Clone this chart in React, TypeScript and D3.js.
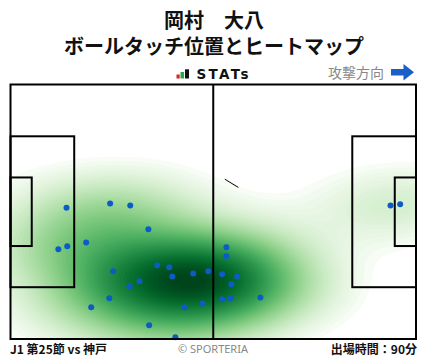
import React, { useMemo } from 'react';
import * as d3 from 'd3';

const W = 428;
const H = 359;

// pitch size in metres
const PITCH_LEN = 105;
const PITCH_WID = 68;

// ball touches (metres, x = attacking direction, y = from top touchline)
const touchX = [
  14.5, 25.8, 31.0, 35.7, 19.6, 12.4, 14.7, 38.0, 41.1, 41.9, 47.3,
  51.2, 26.6, 33.4, 30.8, 25.6, 20.9, 45.0, 49.7, 35.9, 42.7,
  98.4, 100.9, 55.9, 55.9, 54.8, 58.7, 57.2, 54.8, 56.9, 64.7,
];
const touchY = [
  32.9, 31.8, 32.3, 38.7, 42.2, 44.0, 43.2, 48.3, 48.8, 51.3, 50.5,
  49.9, 49.9, 52.6, 53.9, 57.1, 59.5, 59.5, 58.5, 64.3, 67.5,
  32.3, 32.0, 43.5, 45.9, 50.7, 51.3, 53.4, 57.4, 57.1, 56.9,
];

const titleText = '岡村　大八';
const subtitleText = 'ボールタッチ位置とヒートマップ';
const directionText = '攻撃方向';
const matchText = 'J1 第25節 vs 神戸';
const creditText = '© SPORTERIA';
const minutesText = '出場時間：90分';

const JP = '"Noto Sans CJK JP", "Noto Sans", sans-serif';

// gaussian kde (scott bandwidth * adjust), evaluated on a regular grid
function kdeGrid(xs: number[], ys: number[], x0: number, x1: number, y0: number, y1: number, step: number, adjust: number) {
  const n = xs.length;
  const mx = d3.mean(xs)!;
  const my = d3.mean(ys)!;
  let sxx = 0, syy = 0, sxy = 0;
  for (let i = 0; i < n; i++) {
    const dx = xs[i] - mx, dy = ys[i] - my;
    sxx += dx * dx; syy += dy * dy; sxy += dx * dy;
  }
  const f2 = Math.pow(n, -1 / 3) * adjust * adjust;
  const a = (sxx / (n - 1)) * f2, b = (sxy / (n - 1)) * f2, c = (syy / (n - 1)) * f2;
  const det = a * c - b * b;
  const ia = c / det, ib = -b / det, ic = a / det;
  const nx = Math.round((x1 - x0) / step) + 1;
  const ny = Math.round((y1 - y0) / step) + 1;
  const values = new Float64Array(nx * ny);
  for (let j = 0; j < ny; j++) {
    const y = y0 + j * step;
    for (let i = 0; i < nx; i++) {
      const x = x0 + i * step;
      let s = 0;
      for (let k = 0; k < n; k++) {
        const dx = x - xs[k], dy = y - ys[k];
        s += Math.exp(-0.5 * (ia * dx * dx + 2 * ib * dx * dy + ic * dy * dy));
      }
      values[j * nx + i] = s;
    }
  }
  return { values, nx, ny };
}

// seaborn style iso-proportion levels
function isoLevels(values: Float64Array, thresh: number, count: number) {
  const sorted = Array.from(values).sort((p, q) => q - p);
  const total = d3.sum(sorted);
  const cum: number[] = [];
  let acc = 0;
  for (const v of sorted) { acc += v; cum.push(acc / total); }
  return d3.range(count).map(i => {
    const q = thresh + (1 - thresh) * i / (count - 1);
    const idx = d3.bisectLeft(cum, 1 - q);
    return sorted[Math.min(idx, sorted.length - 1)];
  });
}

const App = () => {
  const m = { l: 10.5, r: 12, t: 84.5, b: 20 };
  const x = d3.scaleLinear().domain([0, PITCH_LEN]).range([m.l, W - m.r]);
  const y = d3.scaleLinear().domain([0, PITCH_WID]).range([m.t, H - m.b]);

  const heat = useMemo(() => {
    const gx0 = -30, gx1 = 135, gy0 = -30, gy1 = 98, step = 0.5;
    const { values, nx, ny } = kdeGrid(touchX, touchY, gx0, gx1, gy0, gy1, step, 1.3);
    const levels = isoLevels(values, 0.04, 60);
    const layers = levels.slice(0, -1).map((l, i) => (l + levels[i + 1]) / 2);
    const lo = layers[0], hi = layers[layers.length - 1];
    const color = (v: number) => d3.interpolateGreens(Math.pow((v - lo) / (hi - lo), 0.75));
    const proj = d3.geoTransform({
      point(px: number, py: number) {
        (this as any).stream.point(x(gx0 + (px - 0.5) * step), y(gy0 + (py - 0.5) * step));
      },
    });
    const path = d3.geoPath(proj);
    const contours = d3.contours().size([nx, ny]).thresholds(levels.slice(0, -1))(Array.from(values));
    return contours.map((c, i) => ({ d: path(c) || '', fill: color(layers[i]) }));
  }, []);

  const penD = 16.5, penW = 40.32, gaD = 5.5, gaW = 18.32;
  const penY0 = (PITCH_WID - penW) / 2, gaY0 = (PITCH_WID - gaW) / 2;

  const line = { stroke: '#000', strokeWidth: 2, fill: 'none' };

  return (
    <svg width={W} height={H} style={{ position: 'absolute', left: 0, top: 0, background: '#fff' }}>
      <defs>
        <clipPath id="pitch-clip">
          <rect x={x(0)} y={y(0)} width={x(PITCH_LEN) - x(0)} height={y(PITCH_WID) - y(0)} />
        </clipPath>
      </defs>

      <text x={W / 2} y={28} textAnchor="middle" fontFamily={JP} fontWeight="bold" fontSize={20} fill="#111">{titleText}</text>
      <text x={W / 2} y={53.5} textAnchor="middle" fontFamily={JP} fontWeight="bold" fontSize={20} fill="#111">{subtitleText}</text>

      {/* STATs logo */}
      <rect x={176.5} y={74.5} width={3.2} height={4} fill="#e0202a" />
      <rect x={180.5} y={72} width={3.5} height={6.5} fill="#2aa84a" />
      <rect x={185} y={69.3} width={4} height={9.2} fill="#111" />
      <text x={196.5} y={78.5} fontFamily='"DejaVu Sans", sans-serif' fontWeight="bold" fontSize={13.5} textLength={52} lengthAdjust="spacing" fill="#111">STATs</text>

      <text x={384} y={77.5} textAnchor="end" fontFamily={JP} fontSize={14} fill="#888">{directionText}</text>
      <path d="M391,69 L403.5,69 L403.5,64 L414,72.3 L403.5,80.6 L403.5,75.6 L391,75.6 Z" fill="#1a5fc8" />

      <g clipPath="url(#pitch-clip)">
        {heat.map((h, i) => <path key={i} d={h.d} fill={h.fill} />)}
      </g>

      {touchX.map((tx, i) => (
        <circle key={i} cx={x(tx)} cy={y(touchY[i])} r={3} fill="#0b5cc5" />
      ))}

      <g {...line}>
        <rect x={x(0)} y={y(0)} width={x(PITCH_LEN) - x(0)} height={y(PITCH_WID) - y(0)} />
        <line x1={x(PITCH_LEN / 2)} x2={x(PITCH_LEN / 2)} y1={y(0)} y2={y(PITCH_WID)} />
        <rect x={x(0)} y={y(penY0)} width={x(penD) - x(0)} height={y(penY0 + penW) - y(penY0)} />
        <rect x={x(0)} y={y(gaY0)} width={x(gaD) - x(0)} height={y(gaY0 + gaW) - y(gaY0)} />
        <rect x={x(PITCH_LEN - penD)} y={y(penY0)} width={x(PITCH_LEN) - x(PITCH_LEN - penD)} height={y(penY0 + penW) - y(penY0)} />
        <rect x={x(PITCH_LEN - gaD)} y={y(gaY0)} width={x(PITCH_LEN) - x(PITCH_LEN - gaD)} height={y(gaY0 + gaW) - y(gaY0)} />
      </g>
      <line x1={x(55.5)} y1={y(25.3)} x2={x(59)} y2={y(27.5)} stroke="#000" strokeWidth={1} />

      <text x={10} y={354} fontFamily={JP} fontWeight="bold" fontSize={12} fill="#111">{matchText}</text>
      <text x={213} y={353} textAnchor="middle" fontFamily='"Noto Sans", sans-serif' fontSize={11} fill="#888">{creditText}</text>
      <text x={417} y={354} textAnchor="end" fontFamily={JP} fontWeight="bold" fontSize={12} fill="#111">{minutesText}</text>
    </svg>
  );
};

export default App;
